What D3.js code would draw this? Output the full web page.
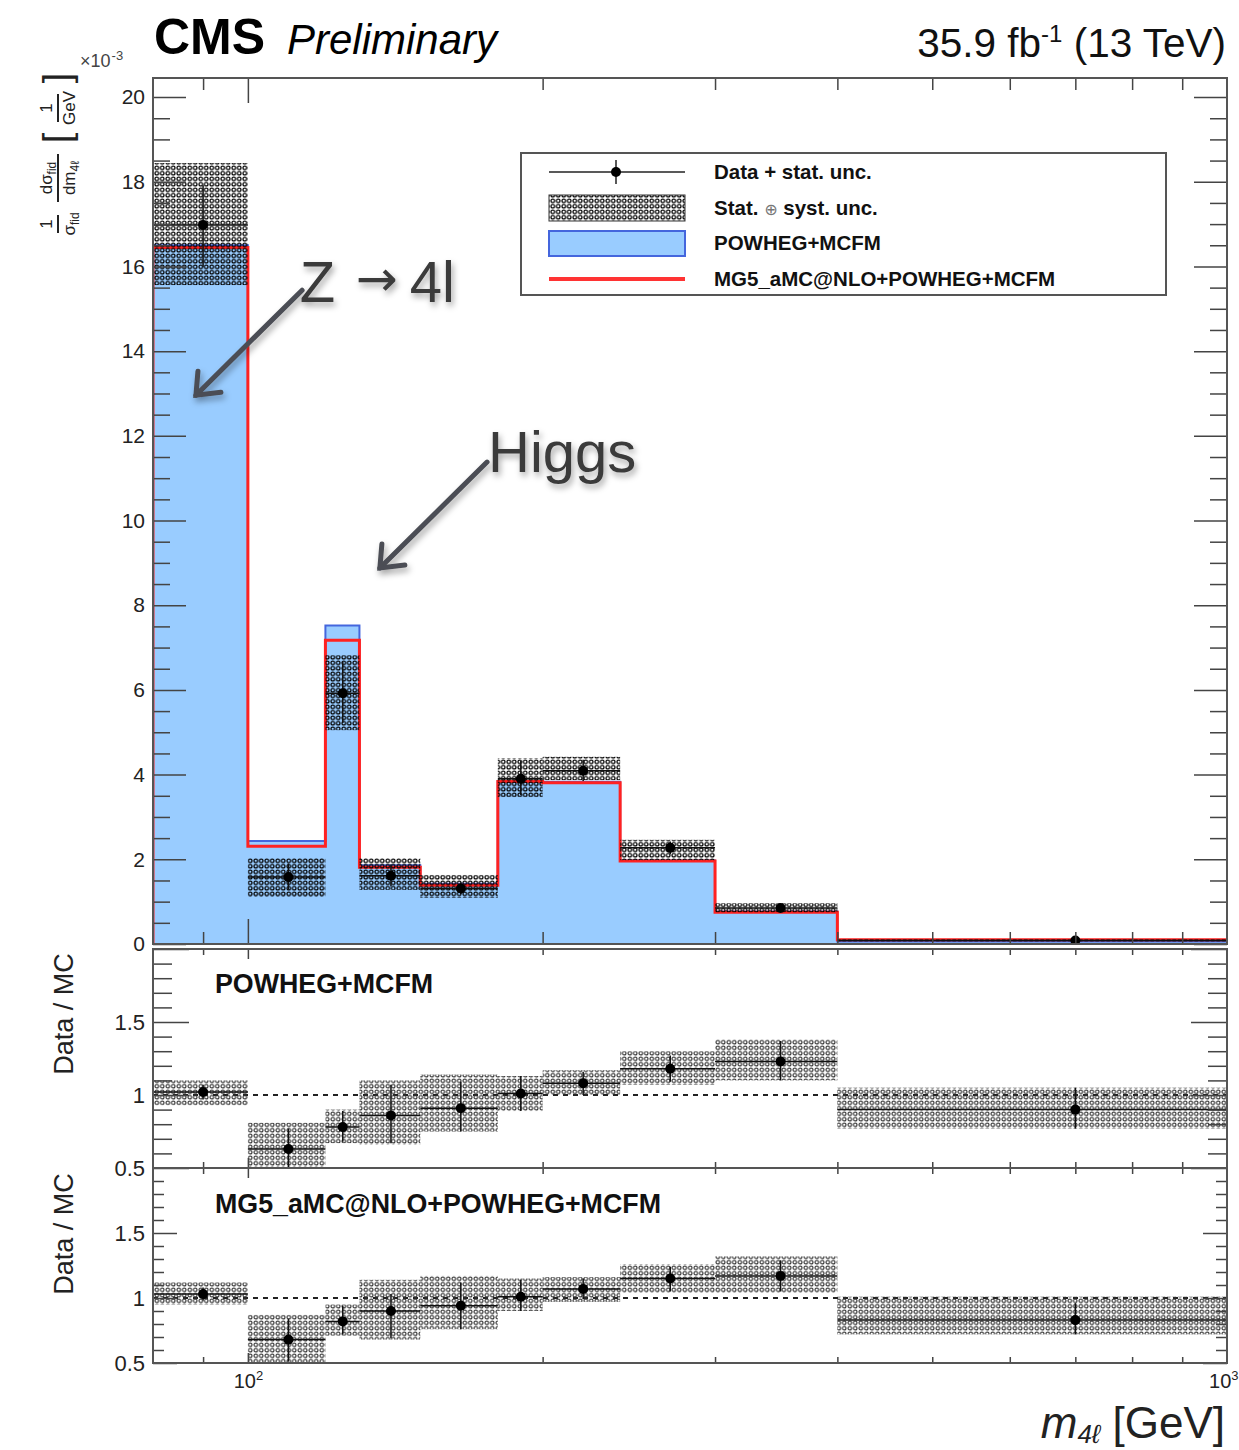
<!DOCTYPE html>
<meta charset="utf-8">
<style>
body { margin: 0; background: #fff; }
svg text { font-family: "Liberation Sans", Arial, Helvetica, sans-serif; }
.tick line { stroke: #444; stroke-width: 1.5; }
.tick text { fill: #222; }
</style>
<body>
<script src="https://cdn.jsdelivr.net/npm/d3@7"></script>
<script>

// m4l binning (GeV) and where the markers sit
var binEdges = [80, 100, 120, 130, 150, 180, 200, 240, 300, 400, 1000];
var binCenters = [90, 110, 125, 140, 165, 190, 220, 270, 350, 700];

// 1/sigma dsigma/dm4l in units of 1e-3 / GeV
var powhegMcfm = [16.5, 2.43, 7.52, 1.86, 1.42, 3.83, 3.83, 1.97, 0.77, 0.06];
var mg5Powheg  = [16.45, 2.31, 7.17, 1.81, 1.39, 3.84, 3.81, 1.96, 0.75, 0.10];
var dataVals   = [16.98, 1.58, 5.92, 1.61, 1.31, 3.90, 4.09, 2.27, 0.85, 0.08];
var dataStat   = [[15.99, 17.92], [1.28, 1.90], [5.22, 6.66], [1.36, 1.88], [1.18, 1.45],
                  [3.52, 4.32], [3.85, 4.35], [2.12, 2.42], [0.79, 0.93], [0.05, 0.12]];
var dataSyst   = [[15.56, 18.44], [1.11, 2.03], [5.05, 6.82], [1.28, 2.03], [1.09, 1.63],
                  [3.47, 4.39], [3.87, 4.42], [1.98, 2.46], [0.75, 0.96], [0.06, 0.11]];

// data / MC ratios
var ratioPowheg     = [1.02, 0.63, 0.78, 0.86, 0.91, 1.01, 1.08, 1.18, 1.23, 0.90];
var ratioPowhegStat = [[0.97, 1.07], [0.49, 0.77], [0.68, 0.89], [0.67, 1.07], [0.75, 1.09],
                       [0.89, 1.13], [1.00, 1.16], [1.09, 1.27], [1.10, 1.37], [0.77, 1.05]];
var ratioPowhegSyst = [[0.93, 1.10], [0.45, 0.81], [0.67, 0.90], [0.66, 1.10], [0.75, 1.14],
                       [0.89, 1.13], [1.00, 1.17], [1.07, 1.30], [1.10, 1.38], [0.77, 1.05]];
var ratioMg5        = [1.03, 0.68, 0.82, 0.90, 0.94, 1.01, 1.07, 1.15, 1.17, 0.83];
var ratioMg5Stat    = [[0.98, 1.08], [0.51, 0.84], [0.72, 0.94], [0.69, 1.03], [0.76, 1.12],
                       [0.90, 1.14], [0.99, 1.15], [1.05, 1.24], [1.05, 1.29], [0.72, 0.96]];
var ratioMg5Syst    = [[0.95, 1.12], [0.45, 0.87], [0.71, 0.95], [0.68, 1.14], [0.76, 1.17],
                       [0.90, 1.15], [0.97, 1.16], [1.04, 1.26], [1.04, 1.32], [0.72, 1.01]];

// tick labels
var mainYTicks = [0, 2, 4, 6, 8, 10, 12, 14, 16, 18, 20];
var ratioYTicks = [0.5, 1, 1.5];
var xMinorTicks = [90, 200, 300, 400, 500, 600, 700, 800, 900];
var xLabelTicks = [100, 1000];

// hand-drawn annotations, in data coordinates (GeV, 1e-3/GeV)
var annotations = [
  {label: "Z", arrowText: true, tx: 113.0, ty: 15.15, from: [113.6, 15.44], to: [88.5, 12.96]},
  {label: "Higgs", arrowText: false, tx: 175.9, ty: 11.15, from: [175.5, 11.38], to: [136.4, 8.88]}
];

var W = 1239, H = 1450;
var left = 153, right = 1227;
var mainTop = 78, mainBottom = 944;
var r1Top = 949, r1Bottom = 1168;
var r2Top = 1168, r2Bottom = 1363;

var x = d3.scaleLog().domain([80, 1000]).range([left, right]);
var yMain = d3.scaleLinear().domain([0, 20.45]).range([mainBottom, mainTop]);
var yR1 = d3.scaleLinear().domain([0.5, 2.0]).range([r1Bottom, r1Top]);
var yR2 = d3.scaleLinear().domain([0.5, 2.0]).range([r2Bottom, r2Top]);

var svg = d3.select("body").append("svg")
    .attr("width", W)
    .attr("height", H);

var defs = svg.append("defs");

function makePattern(id, color, sw) {
  var p = defs.append("pattern").attr("id", id)
      .attr("width", 5.5).attr("height", 5.5)
      .attr("patternUnits", "userSpaceOnUse");
  p.append("circle").attr("cx", 2.75).attr("cy", 2.75).attr("r", 1.8)
      .attr("fill", "none").attr("stroke", color).attr("stroke-width", sw);
}
makePattern("hatchMain", "#000", 1.2);
makePattern("hatchRatio", "#333", 1.1);

function makeClip(id, y0, y1) {
  defs.append("clipPath").attr("id", id)
    .append("rect").attr("x", left).attr("y", y0)
    .attr("width", right - left).attr("height", y1 - y0);
}
makeClip("clipMain", mainTop, mainBottom);
makeClip("clipR1", r1Top, r1Bottom);
makeClip("clipR2", r2Top, r2Bottom);

var shadow = defs.append("filter").attr("id", "shadow")
    .attr("x", "-30%").attr("y", "-30%").attr("width", "160%").attr("height", "160%");
shadow.append("feDropShadow").attr("dx", 2).attr("dy", 4).attr("stdDeviation", 3)
    .attr("flood-color", "#000").attr("flood-opacity", 0.35);

// ---------- main panel ----------
function stepPoints(vals) {
  var pts = binEdges.map(function(e, i) { return [e, vals[Math.min(i, vals.length - 1)]]; });
  return [[binEdges[0], 0]].concat(pts);
}

var stepArea = d3.area()
    .x(function(d) { return x(d[0]); })
    .y0(yMain(0))
    .y1(function(d) { return yMain(d[1]); })
    .curve(d3.curveStepAfter);

var stepLine = d3.line()
    .x(function(d) { return x(d[0]); })
    .y(function(d) { return yMain(d[1]); })
    .curve(d3.curveStepAfter);

var gMain = svg.append("g").attr("clip-path", "url(#clipMain)");

gMain.append("path")
    .attr("d", stepArea(stepPoints(powhegMcfm)))
    .attr("fill", "#99ccff");

gMain.append("path")
    .attr("d", stepLine(stepPoints(powhegMcfm)))
    .attr("fill", "none")
    .attr("stroke", "#4466dd")
    .attr("stroke-width", 2);

gMain.append("path")
    .attr("d", stepLine(stepPoints(mg5Powheg)))
    .attr("fill", "none")
    .attr("stroke", "#ff2222")
    .attr("stroke-width", 3);

function drawMeasured(g, yScale, vals, stat, syst, pattern) {
  g.append("g").selectAll("rect")
    .data(syst)
    .enter()
    .append("rect")
    .attr("x", function(d, i) { return x(binEdges[i]); })
    .attr("width", function(d, i) { return x(binEdges[i + 1]) - x(binEdges[i]); })
    .attr("y", function(d) { return yScale(d[1]); })
    .attr("height", function(d) { return yScale(d[0]) - yScale(d[1]); })
    .attr("fill", "url(#" + pattern + ")");

  g.append("g").selectAll("line")
    .data(vals)
    .enter()
    .append("line")
    .attr("x1", function(d, i) { return x(binEdges[i]); })
    .attr("x2", function(d, i) { return x(binEdges[i + 1]); })
    .attr("y1", function(d) { return yScale(d); })
    .attr("y2", function(d) { return yScale(d); })
    .attr("stroke", "#111")
    .attr("stroke-width", 1.5);

  g.append("g").selectAll("line")
    .data(stat)
    .enter()
    .append("line")
    .attr("x1", function(d, i) { return x(binCenters[i]); })
    .attr("x2", function(d, i) { return x(binCenters[i]); })
    .attr("y1", function(d) { return yScale(d[0]); })
    .attr("y2", function(d) { return yScale(d[1]); })
    .attr("stroke", "#111")
    .attr("stroke-width", 1.5);

  g.append("g").selectAll("circle")
    .data(vals)
    .enter()
    .append("circle")
    .attr("cx", function(d, i) { return x(binCenters[i]); })
    .attr("cy", function(d) { return yScale(d); })
    .attr("r", 5)
    .attr("fill", "#000");
}

drawMeasured(gMain, yMain, dataVals, dataStat, dataSyst, "hatchMain");

// ---------- ratio panels ----------
function drawRatio(clipId, yScale, vals, stat, syst) {
  var g = svg.append("g").attr("clip-path", "url(#" + clipId + ")");
  g.append("line")
    .attr("x1", left).attr("x2", right)
    .attr("y1", yScale(1)).attr("y2", yScale(1))
    .attr("stroke", "#222")
    .attr("stroke-width", 2)
    .attr("stroke-dasharray", "5,5");
  drawMeasured(g, yScale, vals, stat, syst, "hatchRatio");
}
drawRatio("clipR1", yR1, ratioPowheg, ratioPowhegStat, ratioPowhegSyst);
drawRatio("clipR2", yR2, ratioMg5, ratioMg5Stat, ratioMg5Syst);

// ---------- axes and frames ----------
function removeDomain(g) { g.select(".domain").remove(); }

function yAxes(yScale, major, minor, fmt, majLen, minLen, fontSize) {
  svg.append("g")
    .attr("transform", "translate(" + left + ",0)")
    .call(d3.axisLeft(yScale).tickValues(major).tickSize(-majLen).tickPadding(8).tickFormat(fmt))
    .call(removeDomain)
    .selectAll("text").style("font-size", fontSize + "px");
  svg.append("g")
    .attr("transform", "translate(" + left + ",0)")
    .call(d3.axisLeft(yScale).tickValues(minor).tickSize(-minLen).tickFormat(""))
    .call(removeDomain);
  svg.append("g")
    .attr("transform", "translate(" + right + ",0)")
    .call(d3.axisRight(yScale).tickValues(major).tickSize(-majLen).tickFormat(""))
    .call(removeDomain);
  svg.append("g")
    .attr("transform", "translate(" + right + ",0)")
    .call(d3.axisRight(yScale).tickValues(minor).tickSize(-minLen).tickFormat(""))
    .call(removeDomain);
}

function xAxes(yTop, yBottom, minLen, majLen) {
  [[d3.axisBottom, yBottom], [d3.axisTop, yTop]].forEach(function(a) {
    svg.append("g")
      .attr("transform", "translate(0," + a[1] + ")")
      .call(a[0](x).tickValues(xMinorTicks).tickSize(-minLen).tickFormat(""))
      .call(removeDomain);
    svg.append("g")
      .attr("transform", "translate(0," + a[1] + ")")
      .call(a[0](x).tickValues([100]).tickSize(-majLen).tickFormat(""))
      .call(removeDomain);
  });
}

function frame(y0, y1) {
  svg.append("rect")
    .attr("x", left).attr("y", y0)
    .attr("width", right - left).attr("height", y1 - y0)
    .attr("fill", "none")
    .attr("stroke", "#555")
    .attr("stroke-width", 2);
}

var mainMinor = d3.range(0, 20.45, 0.5).filter(function(v) { return mainYTicks.indexOf(v) < 0; });
yAxes(yMain, mainYTicks, mainMinor, d3.format("d"), 33, 17, 21);
xAxes(mainTop, mainBottom, 12, 25);
frame(mainTop, mainBottom);

var ratioMinor = d3.range(0.6, 2.0, 0.1).map(function(v) { return +v.toFixed(1); })
    .filter(function(v) { return ratioYTicks.indexOf(v) < 0; });
var ratioFmt = function(v) { return v === 1 ? "1" : String(v); };

yAxes(yR1, ratioYTicks.concat([2]), ratioMinor, function(v) { return v === 2 ? "" : ratioFmt(v); }, 36, 19, 22);
xAxes(r1Top, r1Bottom, 6, 10);
frame(r1Top, r1Bottom);

yAxes(yR2, ratioYTicks, ratioMinor, ratioFmt, 24, 11, 22);
xAxes(r2Top, r2Bottom, 6, 10);
frame(r2Top, r2Bottom);

// x labels 10^2, 10^3 with superscripts
var xLab = svg.append("g")
    .attr("transform", "translate(0," + r2Bottom + ")")
    .call(d3.axisBottom(x).tickValues(xLabelTicks).tickSize(0).tickPadding(11).tickFormat(""))
    .call(removeDomain);
xLab.selectAll(".tick text")
    .style("font-size", "20px")
    .attr("text-anchor", function(d) { return d === 1000 ? "end" : "middle"; })
    .attr("x", function(d) { return d === 1000 ? W - right - 1 : 0; })
    .each(function(d) {
      var t = d3.select(this);
      t.append("tspan").text("10");
      t.append("tspan").attr("dy", -8).style("font-size", "13px").text(Math.round(Math.log10(d)));
    });

// ---------- titles and texts ----------
svg.append("text")
    .attr("x", 154).attr("y", 54)
    .style("font-size", "50px").style("font-weight", "bold")
    .text("CMS");
svg.append("text")
    .attr("x", 287).attr("y", 54)
    .style("font-size", "42px").style("font-style", "italic")
    .text("Preliminary");

var lumi = svg.append("text")
    .attr("x", 1226).attr("y", 57)
    .attr("text-anchor", "end")
    .style("font-size", "40.5px").style("fill", "#111");
lumi.append("tspan").text("35.9 fb");
lumi.append("tspan").attr("dy", -15).style("font-size", "24px").text("-1");
lumi.append("tspan").attr("dy", 15).text(" (13 TeV)");

var expo = svg.append("text")
    .attr("x", 80).attr("y", 67)
    .style("font-size", "18px").style("fill", "#444");
expo.append("tspan").text("×10");
expo.append("tspan").attr("dy", -7).attr("dx", 1).style("font-size", "13px").text("-3");

// y title of the main panel, built from small fractions
var yt = svg.append("g")
    .attr("transform", "translate(58,240) rotate(-90)")
    .style("fill", "#222");

function fraction(cx, width, num, den) {
  var n = yt.append("text").attr("x", cx).attr("y", -6)
      .attr("text-anchor", "middle").style("font-size", "17px");
  num.forEach(function(p) {
    n.append("tspan").attr("dy", p[1]).style("font-size", p[2] + "px").text(p[0]);
  });
  yt.append("line")
      .attr("x1", cx - width / 2).attr("x2", cx + width / 2)
      .attr("y1", 0).attr("y2", 0)
      .attr("stroke", "#222").attr("stroke-width", 2);
  var dn = yt.append("text").attr("x", cx).attr("y", 17)
      .attr("text-anchor", "middle").style("font-size", "17px");
  den.forEach(function(p) {
    dn.append("tspan").attr("dy", p[1]).style("font-size", p[2] + "px").text(p[0]);
  });
}
fraction(16, 18, [["1", 0, 17]], [["σ", 0, 17], ["fid", 4, 12]]);
fraction(62, 48, [["dσ", 0, 17], ["fid", 4, 12]], [["dm", 0, 17], ["4ℓ", 4, 12]]);
yt.append("text").attr("x", 102).attr("y", 12).attr("text-anchor", "middle")
    .style("font-size", "38px").text("[");
fraction(132, 28, [["1", 0, 17]], [["GeV", 0, 17]]);
yt.append("text").attr("x", 162).attr("y", 12).attr("text-anchor", "middle")
    .style("font-size", "38px").text("]");

// ratio y titles and labels
[[yR1, 1014, "POWHEG+MCFM", 993], [yR2, 1234, "MG5_aMC@NLO+POWHEG+MCFM", 1213]].forEach(function(r) {
  svg.append("text")
    .attr("transform", "translate(73," + r[1] + ") rotate(-90)")
    .attr("text-anchor", "middle")
    .style("font-size", "27px").style("fill", "#222")
    .text("Data / MC");
  svg.append("text")
    .attr("x", 215).attr("y", r[3])
    .style("font-size", "26.8px").style("font-weight", "bold").style("fill", "#111")
    .text(r[2]);
});

// x title
var xt = svg.append("text")
    .attr("x", 1225).attr("y", 1438)
    .attr("text-anchor", "end")
    .style("font-size", "44px").style("fill", "#222");
xt.append("tspan").style("font-style", "italic").text("m");
xt.append("tspan").attr("dy", 5).style("font-size", "26px").style("font-style", "italic").text("4ℓ");
xt.append("tspan").attr("dy", -5).text(" [GeV]");

// ---------- legend ----------
var leg = svg.append("g");
leg.append("rect")
    .attr("x", 521).attr("y", 153).attr("width", 645).attr("height", 142)
    .attr("fill", "#fff").attr("stroke", "#555").attr("stroke-width", 2);

var legRows = [172, 208, 243, 279];
var legLabels = ["Data + stat. unc.", "Stat. ⊕ syst. unc.", "POWHEG+MCFM", "MG5_aMC@NLO+POWHEG+MCFM"];

leg.append("line").attr("x1", 549).attr("x2", 685).attr("y1", legRows[0]).attr("y2", legRows[0])
    .attr("stroke", "#222").attr("stroke-width", 1.5);
leg.append("line").attr("x1", 616).attr("x2", 616).attr("y1", legRows[0] - 12).attr("y2", legRows[0] + 12)
    .attr("stroke", "#222").attr("stroke-width", 1.5);
leg.append("circle").attr("cx", 616).attr("cy", legRows[0]).attr("r", 5).attr("fill", "#000");
leg.append("rect").attr("x", 549).attr("y", legRows[1] - 13).attr("width", 136).attr("height", 26)
    .attr("fill", "url(#hatchMain)").attr("stroke", "#333").attr("stroke-width", 1);
leg.append("rect").attr("x", 549).attr("y", legRows[2] - 12).attr("width", 136).attr("height", 25)
    .attr("fill", "#99ccff").attr("stroke", "#4466dd").attr("stroke-width", 2);
leg.append("line").attr("x1", 549).attr("x2", 685).attr("y1", legRows[3]).attr("y2", legRows[3])
    .attr("stroke", "#ff3333").attr("stroke-width", 4);

legLabels.forEach(function(l, i) {
  var t = leg.append("text")
      .attr("x", 714).attr("y", legRows[i] + 7)
      .style("font-size", "20.5px").style("font-weight", "bold").style("fill", "#111");
  if (i === 1) {
    t.append("tspan").text("Stat. ");
    t.append("tspan").style("font-weight", "normal").style("fill", "#777").style("font-size", "16px")
      .style("font-family", "DejaVu Sans").text("⊕");
    t.append("tspan").text(" syst. unc.");
  } else {
    t.text(l);
  }
});

// ---------- annotations ----------
var ann = svg.append("g").attr("filter", "url(#shadow)");
annotations.forEach(function(a) {
  var sx = x(a.from[0]), sy = yMain(a.from[1]);
  var tx = x(a.to[0]), ty = yMain(a.to[1]);
  ann.append("line")
    .attr("x1", sx).attr("y1", sy).attr("x2", tx).attr("y2", ty)
    .attr("stroke", "#4b4e54").attr("stroke-width", 5).attr("stroke-linecap", "round");
  ann.append("path")
    .attr("d", "M" + (tx + 2) + "," + (ty - 24) + "L" + tx + "," + ty + "L" + (tx + 25) + "," + (ty - 3))
    .attr("fill", "none").attr("stroke", "#4b4e54").attr("stroke-width", 5)
    .attr("stroke-linecap", "round");
  ann.append("text")
    .attr("x", x(a.tx)).attr("y", yMain(a.ty))
    .style("font-size", "58px").style("fill", "#3a3a3a")
    .text(a.label);
  if (a.arrowText) {
    ann.append("text")
      .attr("x", x(a.tx) + 56).attr("y", yMain(a.ty) - 6)
      .style("font-size", "50px").style("font-family", "DejaVu Sans").style("fill", "#3a3a3a")
      .text("→");
    ann.append("text")
      .attr("x", x(a.tx) + 110).attr("y", yMain(a.ty))
      .style("font-size", "58px").style("fill", "#3a3a3a")
      .text("4l");
  }
});

</script>
